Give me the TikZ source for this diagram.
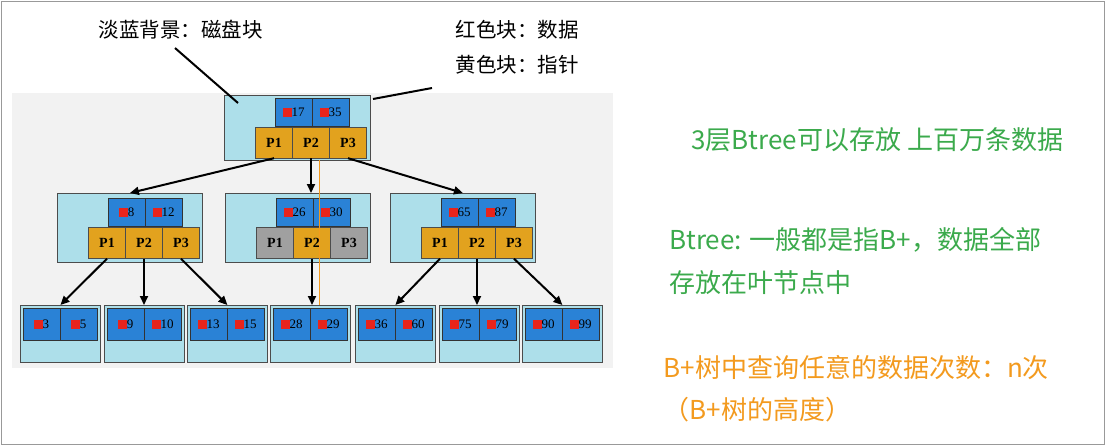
\documentclass[tikz,border=0pt]{standalone}
\usepackage{fontspec}
\setmainfont{Noto Sans CJK SC}
\newfontfamily\cellfont{Liberation Serif}
\usetikzlibrary{arrows.meta}
\definecolor{lb}{HTML}{ADDFEA}
\definecolor{bl}{HTML}{2A82D6}
\definecolor{yl}{HTML}{E2A21E}
\definecolor{gr}{HTML}{A0A0A0}
\definecolor{rd}{HTML}{E8241C}
\definecolor{gn}{HTML}{3BAA4C}
\definecolor{og}{HTML}{F39A1E}
\tikzset{
 disk/.style={draw=black!70,fill=lb,line width=0.8pt,inner sep=0,anchor=north west},
 dcell/.style={draw=black!80,fill=bl,minimum width=37pt,minimum height=28pt,inner sep=0,font=\fontsize{13}{15}\selectfont\cellfont},
 pcell/.style={draw=black!70,fill=yl,minimum width=37pt,minimum height=31pt,inner sep=0,font=\fontsize{14}{16}\selectfont\cellfont\bfseries},
 gcell/.style={pcell,fill=gr},
 arr/.style={-{Triangle[length=9pt,width=8pt]},line width=2pt},
 note/.style={font=\fontsize{20.5}{24}\selectfont,anchor=west},
 big/.style={font=\fontsize{26}{30}\selectfont,anchor=west},
}
\newcommand{\dv}[1]{\tikz[baseline=-4pt]\fill[rd](0,-4.5pt) rectangle (9pt,4.5pt);#1}
\begin{document}
\begin{tikzpicture}[x=1pt,y=-1pt]
\useasboundingbox (0,0) rectangle (1105,445);
\fill[white] (0,0) rectangle (1105,445);
\draw[black!40] (1,1) rectangle (1104,444);
\fill[black!5] (12,93) rectangle (613,368);
% root
\node[disk,minimum width=146pt,minimum height=65pt] (r) at (224,95) {};
\node[dcell] (r1) at (293.5,112) {\dv{17}};
\node[dcell] (r2) at (330.5,112) {\dv{35}};
\node[pcell] (rp1) at (274,142.5) {P1};
\node[pcell] (rp2) at (311,142.5) {P2};
\node[pcell] (rp3) at (348,142.5) {P3};
% level 2
\foreach \n/\x/\a/\b/\s in {a/57/8/12/pcell,b/225/26/30/gcell,c/390/65/87/pcell}{
 \node[disk,minimum width=145pt,minimum height=69pt] (\n) at (\x,193) {};
 \node[dcell] (\n1) at (\x+69.5,212) {\dv{\a}};
 \node[dcell] (\n2) at (\x+106.5,212) {\dv{\b}};
 \node[\s] (\n p1) at (\x+50,243) {P1};
 \node[pcell] (\n p2) at (\x+87,243) {P2};
 \node[\s] (\n p3) at (\x+124,243) {P3};
}
% leaves
\foreach \n/\x/\a/\b in {l1/20/3/5,l2/104/9/10,l3/187/13/15,l4/270/28/29,l5/355/36/60,l6/439/75/79,l7/522/90/99}{
 \node[disk,minimum width=80pt,minimum height=57pt] (\n) at (\x,305) {};
 \node[dcell,minimum width=37pt,minimum height=32pt] (\n a) at (\x+21.5,324) {\dv{\a}};
 \node[dcell,minimum width=37pt,minimum height=32pt] (\n b) at (\x+58.5,324) {\dv{\b}};
}
\draw[arr] (rp1.south) -- (a.north);
\draw[arr] (rp2.south) -- (b.north -| rp2.south);
\draw[arr] (rp3.south) -- (c.north);
\draw[arr] (ap1.south) -- (l1.north);
\draw[arr] (ap2.south) -- (l2.north -| ap2.south);
\draw[arr] (ap3.south) -- (l3.north);
\draw[arr] (bp2.south) -- (l4.north -| bp2.south);
\draw[arr] (cp1.south) -- (l5.north);
\draw[arr] (cp2.south) -- (l6.north -| cp2.south);
\draw[arr] (cp3.south) -- (l7.north);
\draw[og,line width=0.8pt] (319,160) -- (319,305);
% labels
\node[note] (t1) at (95,30) {淡蓝背景：磁盘块};
\node[note] (t2) at (452,30) {红色块：数据};
\node[note] (t3) at (452,65) {黄色块：指针};
\coordinate (e1) at (238,103);
\coordinate (e2) at (373,99);
\draw[line width=2pt] (175,48) -- (e1);
\draw[line width=2pt] (432,88) -- (e2);
\node[big,text=gn] (g1) at (688,140) {3层Btree可以存放 上百万条数据};
\node[big,text=gn] (g2) at (666,240) {Btree: 一般都是指B+，数据全部};
\node[big,text=gn] (g3) at (666,283) {存放在叶节点中};
\node[big,text=og] (o1) at (660,368) {B+树中查询任意的数据次数：n次};
\node[big,text=og] (o2) at (660,410) {（B+树的高度）};
\end{tikzpicture}
\end{document}
